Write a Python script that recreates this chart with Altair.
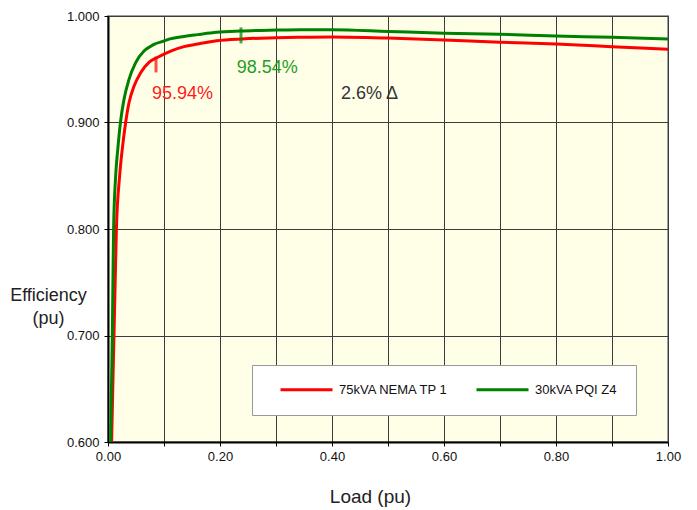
import altair as alt
import pandas as pd

# ---- data ----
series_names = ["75kVA NEMA TP 1", "30kVA PQI Z4"]
series_colors = ["#FF0000", "#008000"]

red_load = [0.0065, 0.0085, 0.0107, 0.0128, 0.0150, 0.0208, 0.0255, 0.0315, 0.0375, 0.0464,
            0.0583, 0.0732, 0.088, 0.112, 0.1357, 0.160, 0.194, 0.240, 0.300, 0.343,
            0.400, 0.500, 0.600, 0.700, 0.800, 0.900, 1.000]
red_eff = [0.600, 0.650, 0.700, 0.750, 0.800, 0.850, 0.875, 0.900, 0.9186, 0.934,
           0.9468, 0.9565, 0.961, 0.9671, 0.9712, 0.9737, 0.9768, 0.9785, 0.9795, 0.9800,
           0.9803, 0.9793, 0.9775, 0.9753, 0.9737, 0.9712, 0.9687]

green_load = [0.0048, 0.0062, 0.0077, 0.0088, 0.0100, 0.0137, 0.0175, 0.0222, 0.0286, 0.0375,
              0.0494, 0.0643, 0.0750, 0.0821, 0.100, 0.1107, 0.1357, 0.160, 0.194, 0.2357,
              0.300, 0.343, 0.400, 0.500, 0.600, 0.700, 0.800, 0.900, 1.000]
green_eff = [0.600, 0.650, 0.700, 0.750, 0.800, 0.850, 0.875, 0.900, 0.9218, 0.9405,
             0.9562, 0.9671, 0.9712, 0.9734, 0.9765, 0.9785, 0.9808, 0.9825, 0.9847, 0.9859,
             0.9868, 0.9872, 0.9871, 0.9855, 0.9838, 0.9828, 0.9812, 0.9800, 0.9784]

marker_series = ["75kVA NEMA TP 1", "30kVA PQI Z4"]
marker_load = [0.0857, 0.2375]
marker_eff = [0.9545, 0.9818]

note_text = ["95.94%", "98.54%", "2.6% \u0394"]
note_load = [0.0786, 0.2298, 0.416]
note_eff = [0.9221, 0.9462, 0.9218]
note_color = ["#FF1A1A", "#1E9E1E", "#333333"]

x_ticks = [0.0, 0.1, 0.2, 0.3, 0.4, 0.5, 0.6, 0.7, 0.8, 0.9, 1.0]
y_ticks = [0.6, 0.7, 0.8, 0.9, 1.0]

FONT = "Liberation Sans, Arial, sans-serif"

# ---- tables ----
lines_df = pd.DataFrame({
    "load": red_load + green_load,
    "eff": red_eff + green_eff,
    "series": [series_names[0]] * len(red_load) + [series_names[1]] * len(green_load),
})
mark_df = pd.DataFrame({"load": marker_load, "eff": marker_eff, "series": marker_series})
note_df = pd.DataFrame({"load": note_load, "eff": note_eff, "text": note_text, "c": note_color})

x_scale = alt.Scale(domain=[0, 1], nice=False, zero=False)
y_scale = alt.Scale(domain=[0.6, 1.0], nice=False, zero=False)
color_scale = alt.Scale(domain=series_names, range=series_colors)

x_axis = alt.Axis(
    values=x_ticks,
    labelExpr="round(datum.value*10) % 2 == 0 ? format(datum.value, '.2f') : ''",
    labelFlush=False, labelOverlap=False,
    title="Load (pu)", titleFont=FONT, titleFontSize=19, titleFontWeight="normal",
    titleColor="#222", titleX=262, titleY=60, titleBaseline="alphabetic", titleAnchor="start",
    titleAlign="center",
    labelFont=FONT, labelFontSize=13, labelColor="#111", labelPadding=4,
    domainColor="#000", domainWidth=2, tickColor="#000", tickSize=4,
    gridColor="#3c3c3c", gridWidth=1, gridOpacity=1,
)
y_axis = alt.Axis(
    values=y_ticks, format=".3f", labelFlush=False, labelOverlap=False,
    title=["Efficiency", "(pu)"], titleFont=FONT, titleFontSize=18, titleFontWeight="normal",
    titleColor="#222", titleAngle=0, titleX=-60, titleY=284, titleAlign="center",
    titleBaseline="alphabetic", titleLineHeight=23, titleAnchor="start",
    labelFont=FONT, labelFontSize=13, labelColor="#111", labelPadding=5,
    domainColor="#000", domainWidth=2, tickColor="#000", tickSize=4,
    gridColor="#3c3c3c", gridWidth=1, gridOpacity=1,
)

lines = alt.Chart(lines_df).mark_line(strokeWidth=3, interpolate="monotone", clip=True).encode(
    x=alt.X("load:Q", scale=x_scale, axis=x_axis),
    y=alt.Y("eff:Q", scale=y_scale, axis=y_axis),
    color=alt.Color(
        "series:N", scale=color_scale,
        legend=alt.Legend(
            title=None, orient="none", legendX=144, legendY=349, direction="horizontal",
            symbolType="stroke", symbolSize=2704, symbolStrokeWidth=3, clipHeight=13,
            symbolOffset=9,
            labelFont=FONT, labelFontSize=13, labelColor="#111", labelOffset=5,
            columnPadding=17, fillColor="white", strokeColor="#999", padding=18,
        ),
    ),
)

ticks = alt.Chart(mark_df).mark_tick(orient="vertical", size=16, thickness=3).encode(
    x=alt.X("load:Q", scale=x_scale),
    y=alt.Y("eff:Q", scale=y_scale),
    color=alt.Color("series:N", scale=color_scale, legend=None),
)

notes = alt.Chart(note_df).mark_text(
    align="left", baseline="alphabetic", font=FONT, fontSize=18
).encode(
    x=alt.X("load:Q", scale=x_scale),
    y=alt.Y("eff:Q", scale=y_scale),
    text="text:N",
    color=alt.Color("c:N", scale=None),
)

chart = alt.layer(lines, ticks, notes).properties(
    width=560, height=426,
    padding={"left": 100, "top": 8, "right": 20, "bottom": 70},
    autosize=alt.AutoSizeParams(type="none"),
    background="white",
).configure_view(fill="#FFFFE8", stroke="#A0A0A0", strokeWidth=2)

chart.save("out.html", embed_options={"renderer": "svg", "actions": False})
